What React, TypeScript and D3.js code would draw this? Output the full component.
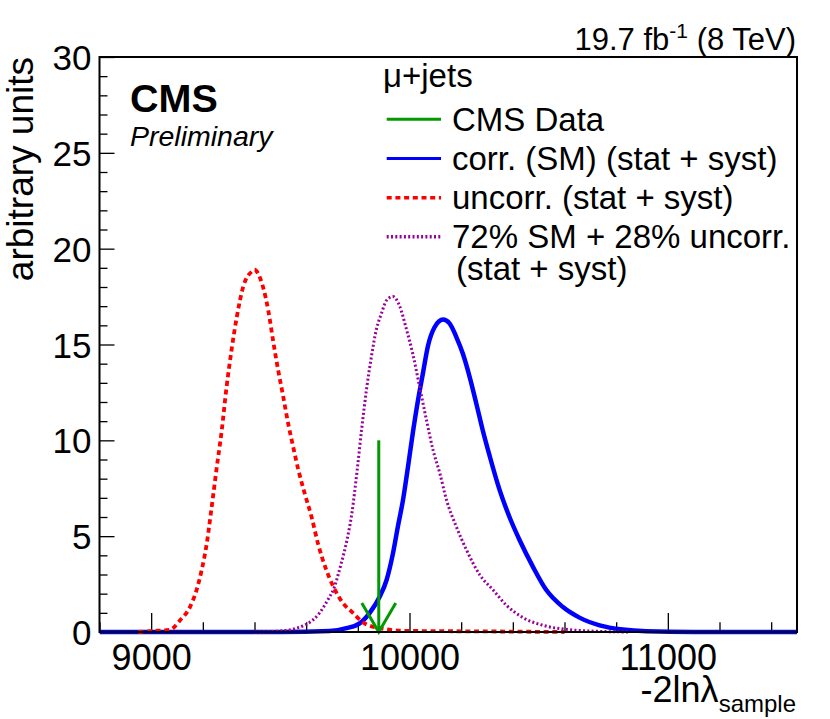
import React, { useEffect, useRef } from 'react'
import * as d3 from 'd3'

// x axis: -2 ln lambda_sample, y axis: arbitrary units
const xDomain = [8800, 11500]
const yDomain = [0, 30]
const xMajorTicks = [9000, 10000, 11000]
const yMajorTicks = [0, 5, 10, 15, 20, 25, 30]

// corr. (SM) (stat + syst)
const corrX = [8800, 9500, 9691, 9756, 9807, 9846, 9885, 9911, 9936, 9955, 9975, 9994, 10013, 10033, 10052, 10071, 10097, 10130, 10155, 10181, 10207, 10233, 10259, 10284, 10310, 10349, 10387, 10426, 10478, 10529, 10594, 10658, 10736, 10826, 10916, 11100, 11500]
const corrY = [0, 0, 0.05, 0.2, 0.45, 1.0, 1.85, 2.7, 4.1, 5.5, 6.9, 8.6, 10.4, 12.1, 13.5, 14.9, 15.9, 16.3, 16.1, 15.4, 14.5, 13.3, 11.9, 10.5, 9.2, 7.4, 6.0, 4.8, 3.4, 2.2, 1.3, 0.75, 0.35, 0.13, 0.04, 0, 0]

// uncorr. (stat + syst)
const uncorrX = [8950, 9000, 9073, 9111, 9150, 9176, 9195, 9215, 9234, 9253, 9273, 9292, 9311, 9331, 9356, 9389, 9400, 9414, 9433, 9453, 9472, 9491, 9511, 9530, 9549, 9569, 9595, 9621, 9646, 9679, 9704, 9743, 9781, 9820, 9885, 9988, 10300, 10600]
const uncorrY = [0, 0.05, 0.12, 0.6, 1.3, 2.2, 3.2, 4.6, 6.5, 8.5, 10.5, 12.8, 14.7, 16.4, 18.0, 18.8, 18.9, 18.7, 18.0, 16.8, 15.2, 13.7, 12.3, 10.9, 9.7, 8.5, 7.2, 6.0, 4.6, 3.2, 2.4, 1.5, 1.0, 0.5, 0.2, 0.06, 0.03, 0]

// 72% SM + 28% uncorr. (stat + syst)
const mixX = [9400, 9498, 9601, 9652, 9685, 9708, 9732, 9758, 9777, 9797, 9815, 9834, 9853, 9872, 9891, 9911, 9936, 9962, 9988, 10013, 10039, 10065, 10091, 10117, 10143, 10181, 10220, 10271, 10323, 10375, 10439, 10516, 10619, 10723, 10850]
const mixY = [0, 0.05, 0.4, 1.0, 1.7, 2.3, 3.4, 4.8, 6.2, 8.4, 10.6, 12.7, 14.4, 15.8, 16.6, 17.3, 17.5, 17.0, 15.8, 14.5, 12.8, 11.1, 9.5, 8.3, 6.9, 5.5, 4.3, 3.0, 2.2, 1.4, 0.75, 0.35, 0.12, 0.04, 0]

// CMS Data
const dataValue = 9881
const dataArrowTop = 10

const legendEntries = [
  { label: 'CMS Data', color: '#009900', dash: null, width: 3 },
  { label: 'corr. (SM) (stat + syst)', color: '#0000ff', dash: null, width: 3 },
  { label: 'uncorr. (stat + syst)', color: '#ff0000', dash: '5,3.7', width: 3.5 },
  { label: '72% SM + 28% uncorr.', color: '#990099', dash: '2,2.3', width: 3.5 },
]

const font = "'Liberation Sans', Arial, Helvetica, sans-serif"

export default function App() {
  const svgRef = useRef<SVGSVGElement>(null)

  useEffect(() => {
    if (!svgRef.current) return
    const root = d3.select(svgRef.current)
    root.selectAll('*').remove()

    const left = 99.5, right = 797, top = 57, bottom = 632

    const x = d3.scaleLinear().domain(xDomain).range([left, right])
    const y = d3.scaleLinear().domain(yDomain).range([bottom, top])

    root.append('defs').append('clipPath').attr('id', 'plot-clip')
      .append('rect')
      .attr('x', left).attr('y', top - 5)
      .attr('width', right - left).attr('height', bottom - top + 10)

    // X axis: minor every 200, major every 1000
    const xMinor = d3.range(xDomain[0], xDomain[1] + 1, 200).filter(v => !xMajorTicks.includes(v))
    const gx = root.append('g').attr('transform', `translate(0,${bottom})`)
    gx.call(d3.axisBottom(x).tickValues(xMinor).tickSize(-9.7).tickFormat(() => ''))
    gx.append('g').call(d3.axisBottom(x).tickValues(xMajorTicks).tickSize(-19).tickFormat(d3.format('d')))
    gx.selectAll('.domain').remove()
    gx.selectAll('.tick line').attr('stroke', '#000').attr('stroke-width', 1.3)
    gx.selectAll('.tick text')
      .attr('y', 38).attr('dy', null)
      .attr('fill', '#000')
      .style('font-family', font).style('font-size', '36px')

    // Y axis: minor every 1, major every 5
    const yMinor = d3.range(0, 31, 1).filter(v => !yMajorTicks.includes(v))
    const gy = root.append('g').attr('transform', `translate(${left},0)`)
    gy.call(d3.axisLeft(y).tickValues(yMinor).tickSize(-8).tickFormat(() => ''))
    gy.append('g').call(d3.axisLeft(y).tickValues(yMajorTicks).tickSize(-15).tickFormat(d3.format('d')))
    gy.selectAll('.domain').remove()
    gy.selectAll('.tick line').attr('stroke', '#000').attr('stroke-width', 1.3)
    gy.selectAll('.tick text')
      .attr('x', -8).attr('dy', '0.36em')
      .attr('fill', '#000')
      .style('font-family', font).style('font-size', '35px')

    // Curves
    const line = d3.line<[number, number]>()
      .x(d => x(d[0]))
      .y(d => y(d[1]))
      .curve(d3.curveMonotoneX)

    const plot = root.append('g').attr('clip-path', 'url(#plot-clip)')

    const drawSeries = (xs: number[], ys: number[], color: string, width: number, dash: string | null) => {
      const pts = xs.map((v, i) => [v, ys[i]] as [number, number])
      plot.append('path')
        .datum(pts)
        .attr('fill', 'none')
        .attr('stroke', color)
        .attr('stroke-width', width)
        .attr('stroke-dasharray', dash)
        .attr('stroke-linejoin', 'round')
        .attr('d', line)
    }

    drawSeries(corrX, corrY, '#0000ff', 4.5, null)
    drawSeries(uncorrX, uncorrY, '#ff0000', 3.8, '5,3.7')
    drawSeries(mixX, mixY, '#990099', 3, '2,2.3')

    // data arrow
    const ax = x(dataValue)
    const ay0 = y(dataArrowTop)
    const ay1 = y(0)
    const arrow = root.append('g').attr('stroke', '#009900').attr('stroke-width', 3).attr('fill', 'none')
    arrow.append('line').attr('x1', ax).attr('x2', ax).attr('y1', ay0).attr('y2', ay1)
    arrow.append('path')
      .attr('d', `M${ax - 17},${ay1 - 29}L${ax},${ay1}L${ax + 17},${ay1 - 29}`)

    // frame
    root.append('rect')
      .attr('x', left).attr('y', top)
      .attr('width', right - left).attr('height', bottom - top)
      .attr('fill', 'none').attr('stroke', '#000').attr('stroke-width', 2)

    // CMS label
    root.append('text')
      .attr('x', 130).attr('y', 111.5)
      .style('font-family', font).style('font-size', '39.5px').style('font-weight', 'bold')
      .text('CMS')
    root.append('text')
      .attr('x', 130).attr('y', 145.5)
      .style('font-family', font).style('font-size', '28.5px').style('font-style', 'italic')
      .text('Preliminary')

    // luminosity
    const lumi = root.append('text')
      .attr('x', 796).attr('y', 50)
      .attr('text-anchor', 'end')
      .style('font-family', font).style('font-size', '31px')
    lumi.append('tspan').text('19.7 fb')
    lumi.append('tspan').attr('dy', -12).style('font-size', '21px').text('-1')
    lumi.append('tspan').attr('dy', 12).text(' (8 TeV)')

    // axis titles
    const xt = root.append('text')
      .attr('x', 796).attr('y', 701.5)
      .attr('text-anchor', 'end')
      .style('font-family', font).style('font-size', '36px')
    xt.append('tspan').text('-2lnλ')
    xt.append('tspan').attr('dy', 10).style('font-size', '24px').text('sample')

    root.append('text')
      .attr('transform', 'translate(33,57) rotate(-90)')
      .attr('text-anchor', 'end')
      .style('font-family', font).style('font-size', '37px')
      .text('arbitrary units')

    // legend
    const lg = root.append('g').style('font-family', font).style('font-size', '33px')
    lg.append('text').attr('x', 383).attr('y', 87).text('μ+jets')
    const lineYs = [119.3, 158.5, 197.7, 236.8]
    legendEntries.forEach((e, i) => {
      lg.append('line')
        .attr('x1', 386.7).attr('x2', 441)
        .attr('y1', lineYs[i]).attr('y2', lineYs[i])
        .attr('stroke', e.color)
        .attr('stroke-width', e.width)
        .attr('stroke-dasharray', e.dash)
      lg.append('text')
        .attr('x', 452).attr('y', lineYs[i] + 11.2)
        .text(e.label)
    })
    lg.append('text').attr('x', 456).attr('y', 280).text('(stat + syst)')
  }, [])

  return (
    <div style={{ position: 'absolute', left: 0, top: 0 }}>
      <svg ref={svgRef} width={830} height={719} style={{ display: 'block', background: '#fff' }} />
    </div>
  )
}
